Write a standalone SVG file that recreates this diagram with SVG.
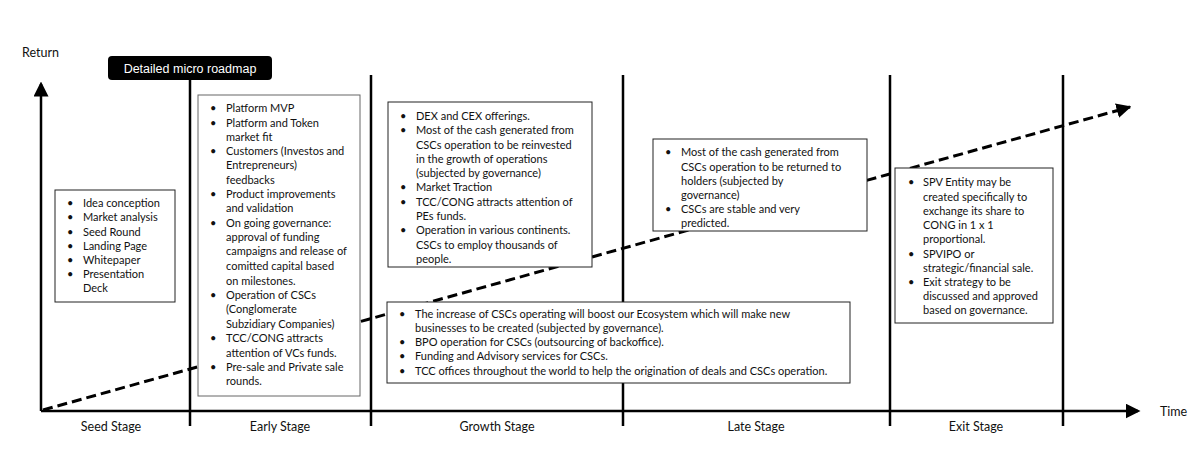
<svg xmlns="http://www.w3.org/2000/svg" width="1204" height="456" viewBox="0 0 1204 456">
<style>
text{font-family:Lato,"Liberation Sans",sans-serif;font-size:11px;fill:#111;}
.box{fill:#fff;stroke:#222;stroke-width:1;}
.gbox{fill:#fff;stroke:#666;stroke-width:1;}
.div{stroke:#000;stroke-width:2.5;}
.axis{stroke:#000;stroke-width:2.5;fill:none;}
.stage{font-size:12.5px;text-anchor:middle;}
</style>
<defs>
<marker id="ah" markerWidth="6" markerHeight="6" refX="5" refY="3" orient="auto" markerUnits="strokeWidth">
<path d="M0,0 L6,3 L0,6 Z" fill="#000"/>
</marker>
<marker id="ah2" markerWidth="5" markerHeight="5" refX="4.5" refY="2.5" orient="auto" markerUnits="strokeWidth">
<path d="M0,0 L5,2.5 L0,5 Z" fill="#000"/>
</marker>
</defs>
<g id="axes">
<line class="div" x1="190" y1="80" x2="190" y2="426"/>
<line class="div" x1="371" y1="75" x2="371" y2="426"/>
<line class="div" x1="623" y1="75" x2="623" y2="426"/>
<line class="div" x1="890" y1="75" x2="890" y2="426"/>
<line class="div" x1="1063" y1="75" x2="1063" y2="426"/>
<line class="axis" x1="41" y1="411" x2="41" y2="84" marker-end="url(#ah)"/>
<line class="axis" x1="41" y1="411" x2="1138" y2="411" marker-end="url(#ah)"/>
<text x="22" y="57" style="font-size:12.5px">Return</text>
<text x="1160" y="416" style="font-size:12.5px">Time</text>
</g>
<g id="connectors">
<line x1="43" y1="410" x2="1130" y2="107" stroke="#000" stroke-width="3" stroke-dasharray="10,5" marker-end="url(#ah2)"/>
</g>
<g id="stages">
<text class="stage" x="111" y="431">Seed Stage</text>
<text class="stage" x="280" y="431">Early Stage</text>
<text class="stage" x="497" y="431">Growth Stage</text>
<text class="stage" x="756" y="431">Late Stage</text>
<text class="stage" x="976" y="431">Exit Stage</text>
</g>
<g id="roadmap-label">
<rect x="108" y="56" width="164" height="24" rx="4" fill="#000"/>
<text x="190" y="73" style="fill:#fff;font-family:'Liberation Sans',Arial,sans-serif;font-size:12.5px;text-anchor:middle">Detailed micro roadmap</text>
</g>
<g id="seed">
<rect class="box" x="55" y="190" width="120" height="112"/>
<g>
<text x="67" y="207">•</text><text x="83" y="207">Idea conception</text>
<text x="67" y="221">•</text><text x="83" y="221">Market analysis</text>
<text x="67" y="236">•</text><text x="83" y="236">Seed Round</text>
<text x="67" y="250">•</text><text x="83" y="250">Landing Page</text>
<text x="67" y="264">•</text><text x="83" y="264">Whitepaper</text>
<text x="67" y="278">•</text><text x="83" y="278">Presentation</text>
<text x="83" y="292">Deck</text>
</g>
</g>
<g id="early">
<rect class="gbox" x="198" y="95" width="162" height="301"/>
<text x="210" y="112">•</text><text x="226" y="112">Platform MVP</text>
<text x="210" y="127">•</text><text x="226" y="127">Platform and Token</text>
<text x="226" y="141">market fit</text>
<text x="210" y="155">•</text><text x="226" y="155">Customers (Investos and</text>
<text x="226" y="169">Entrepreneurs)</text>
<text x="226" y="184">feedbacks</text>
<text x="210" y="198">•</text><text x="226" y="198">Product improvements</text>
<text x="226" y="212">and validation</text>
<text x="210" y="227">•</text><text x="226" y="227">On going governance:</text>
<text x="226" y="241">approval of funding</text>
<text x="226" y="255">campaigns and release of</text>
<text x="226" y="270">comitted capital based</text>
<text x="226" y="285">on milestones.</text>
<text x="210" y="299">•</text><text x="226" y="299">Operation of CSCs</text>
<text x="226" y="313">(Conglomerate</text>
<text x="226" y="328">Subzidiary Companies)</text>
<text x="210" y="342">•</text><text x="226" y="342">TCC/CONG attracts</text>
<text x="226" y="357">attention of VCs funds.</text>
<text x="210" y="371">•</text><text x="226" y="371">Pre-sale and Private sale</text>
<text x="226" y="385">rounds.</text>
</g>
<g id="growth-top">
<rect class="box" x="388" y="102" width="204" height="165"/>
<text x="400" y="120">•</text><text x="416" y="120">DEX and CEX offerings.</text>
<text x="400" y="134">•</text><text x="416" y="134">Most of the cash generated from</text>
<text x="416" y="149">CSCs operation to be reinvested</text>
<text x="416" y="163">in the growth of operations</text>
<text x="416" y="177">(subjected by governance)</text>
<text x="400" y="191">•</text><text x="416" y="191">Market Traction</text>
<text x="400" y="206">•</text><text x="416" y="206">TCC/CONG attracts attention of</text>
<text x="416" y="220">PEs funds.</text>
<text x="400" y="234">•</text><text x="416" y="234">Operation in various continents.</text>
<text x="416" y="249">CSCs to employ thousands of</text>
<text x="416" y="263">people.</text>
</g>
<g id="growth-bottom">
<rect class="box" x="387" y="302" width="463" height="81"/>
<text x="399" y="318">•</text><text x="415" y="318">The increase of CSCs operating will boost our Ecosystem which will make new</text>
<text x="415" y="332">businesses to be created (subjected by governance).</text>
<text x="399" y="346">•</text><text x="415" y="346">BPO operation for CSCs (outsourcing of backoffice).</text>
<text x="399" y="360">•</text><text x="415" y="360">Funding and Advisory services for CSCs.</text>
<text x="399" y="375">•</text><text x="415" y="375">TCC offices throughout the world to help the origination of deals and CSCs operation.</text>
</g>
<g id="late">
<rect class="box" x="653" y="139" width="214" height="92"/>
<text x="665" y="156">•</text><text x="681" y="156">Most of the cash generated from</text>
<text x="681" y="171">CSCs operation to be returned to</text>
<text x="681" y="185">holders (subjected by</text>
<text x="681" y="199">governance)</text>
<text x="665" y="213">•</text><text x="681" y="213">CSCs are stable and very</text>
<text x="681" y="227">predicted.</text>
</g>
<g id="exit">
<rect class="box" x="895" y="168" width="158" height="155"/>
<text x="908" y="186">•</text><text x="923" y="186">SPV Entity may be</text>
<text x="923" y="201">created specifically to</text>
<text x="923" y="215">exchange its share to</text>
<text x="923" y="229">CONG in 1 x 1</text>
<text x="923" y="243">proportional.</text>
<text x="908" y="258">•</text><text x="923" y="258">SPVIPO or</text>
<text x="923" y="272">strategic/financial sale.</text>
<text x="908" y="286">•</text><text x="923" y="286">Exit strategy to be</text>
<text x="923" y="300">discussed and approved</text>
<text x="923" y="314">based on governance.</text>
</g>
</svg>
